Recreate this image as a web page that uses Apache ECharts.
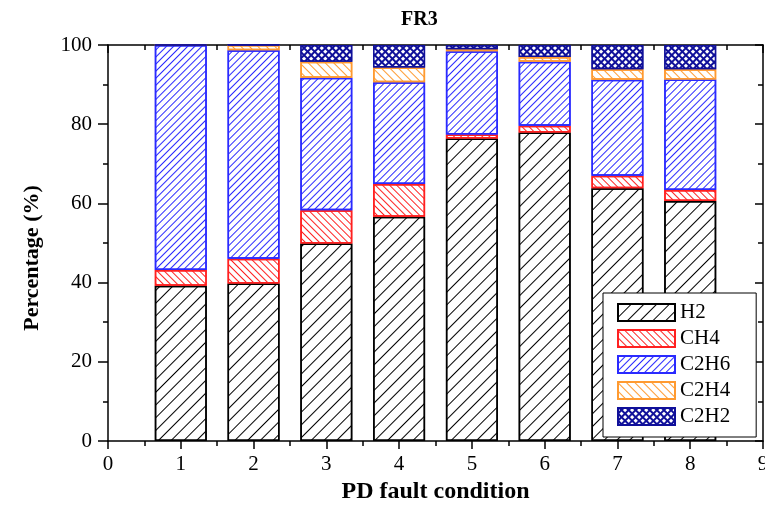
<!DOCTYPE html>
<html>
<head>
<meta charset="utf-8">
<script src="https://cdn.jsdelivr.net/npm/echarts@6/dist/echarts.min.js"></script>
<style>
html, body { margin: 0; padding: 0; background: #fff; }
#main { width: 765px; height: 506px; }
</style>
</head>
<body>
<div id="main"></div>
<script>
// PD fault conditions 1..8, gas percentages
let conditions = ['1', '2', '3', '4', '5', '6', '7', '8'];
let gasNames = ['H2', 'CH4', 'C2H6', 'C2H4', 'C2H2'];
let h2   = [39.2, 39.8, 49.9, 56.6, 76.4, 77.9, 63.8, 60.6];
let ch4  = [ 4.0,  6.2,  8.4,  8.3,  1.0,  1.7,  3.2,  2.8];
let c2h6 = [56.8, 52.7, 33.4, 25.7, 21.0, 16.2, 24.2, 27.9];
let c2h4 = [ 0.0,  1.3,  4.1,  3.7,  0.5,  1.2,  2.7,  2.6];
let c2h2 = [ 0.0,  0.0,  4.2,  5.7,  1.1,  3.0,  6.1,  6.1];

let serif = 'Liberation Serif';
// bar axis runs 0..9, bars sit on 1..8
let barCats = ['0'].concat(conditions, ['9']);
function pad(arr) {
    return ['-'].concat(arr, ['-']);
}
function hatch(color, gap, rot) {
    return {
        symbol: 'rect', symbolSize: 1, color: color,
        dashArrayX: [1, 0], dashArrayY: [1, gap], rotation: rot
    };
}

let styles = [
    { color: '#fff', borderColor: '#000', decal: hatch('#000', 8, -Math.PI / 4) },
    { color: '#fff', borderColor: '#ff2020', decal: hatch('#ff2020', 4, Math.PI / 4) },
    { color: '#fff', borderColor: '#2a2aff', decal: hatch('#2a2aff', 3.5, -Math.PI / 4) },
    { color: '#fff', borderColor: '#ff9a30', decal: hatch('#ff9a30', 5, Math.PI / 4) },
    { color: '#10109a', borderColor: '#10109a', decal: {
        symbol: 'rect', symbolSize: 1, color: '#fff',
        dashArrayX: [3, 2], dashArrayY: [3, 2], rotation: Math.PI / 4 } }
];
let values = [h2, ch4, c2h6, c2h4, c2h2];

let series = gasNames.map(function (name, i) {
    return {
        name: name,
        type: 'bar',
        stack: 'total',
        xAxisIndex: 2,
        yAxisIndex: 0,
        barWidth: 52,
        data: pad(values[i]),
        itemStyle: {
            color: styles[i].color,
            borderColor: styles[i].borderColor,
            borderWidth: 1.5,
            decal: styles[i].decal
        }
    };
});

let axisLine = { show: true, onZero: false, lineStyle: { color: '#000', width: 1.5 } };
let tickStyle = { color: '#000', width: 1.5 };
let nameStyle = { fontFamily: serif, fontWeight: 'bold', fontSize: 24, color: '#000' };
let labelStyle = { fontFamily: serif, fontSize: 21, color: '#000' };

let myChart = echarts.init(document.getElementById('main'));
let option = {
    animation: false,
    title: {
        text: 'FR3',
        left: 396,
        top: 5,
        textStyle: { fontFamily: serif, fontWeight: 'bold', fontSize: 20, color: '#000' }
    },
    grid: { left: 108, right: 2, top: 45, bottom: 65, outerBoundsMode: 'none' },
    legend: {
        orient: 'vertical',
        left: 603,
        top: 293,
        icon: 'rect',
        itemWidth: 57,
        itemHeight: 17,
        itemGap: 5,
        padding: [9, 26, 10, 14],
        backgroundColor: '#fff',
        borderColor: '#000',
        borderWidth: 1,
        borderRadius: 0,
        textStyle: { fontFamily: serif, fontSize: 21, color: '#000' },
        data: gasNames
    },
    xAxis: [
        {
            type: 'value', min: 0, max: 9, interval: 1, position: 'bottom',
            axisLine: axisLine,
            axisTick: { length: 8, lineStyle: tickStyle },
            minorTick: { show: true, splitNumber: 2, length: 5, lineStyle: tickStyle },
            splitLine: { show: false },
            axisLabel: Object.assign({ margin: 13 }, labelStyle),
            name: 'PD fault condition',
            nameLocation: 'middle',
            nameGap: 39,
            nameTextStyle: nameStyle
        },
        {
            type: 'value', min: 0, max: 9, interval: 1, position: 'top',
            axisLine: axisLine,
            axisTick: { inside: true, length: 8, lineStyle: tickStyle },
            minorTick: { show: true, splitNumber: 2, length: 5, lineStyle: tickStyle },
            splitLine: { show: false },
            axisLabel: { show: false }
        },
        {
            type: 'category', data: barCats, boundaryGap: false, show: false
        }
    ],
    yAxis: [
        {
            type: 'value', min: 0, max: 100, interval: 20, position: 'left',
            axisLine: axisLine,
            axisTick: { length: 10, lineStyle: tickStyle },
            minorTick: { show: true, splitNumber: 2, length: 5, lineStyle: tickStyle },
            splitLine: { show: false },
            axisLabel: Object.assign({ margin: 16 }, labelStyle),
            name: 'Percentage (%)',
            nameLocation: 'middle',
            nameGap: 65,
            nameTextStyle: Object.assign({ padding: [0, 30, 0, 0] }, nameStyle, { fontSize: 22 })
        },
        {
            type: 'value', min: 0, max: 100, interval: 20, position: 'right',
            axisLine: axisLine,
            axisTick: { inside: true, length: 8, lineStyle: tickStyle },
            minorTick: { show: true, splitNumber: 2, length: 5, lineStyle: tickStyle },
            splitLine: { show: false },
            axisLabel: { show: false }
        }
    ],
    series: series
};
myChart.setOption(option);
</script>
</body>
</html>
